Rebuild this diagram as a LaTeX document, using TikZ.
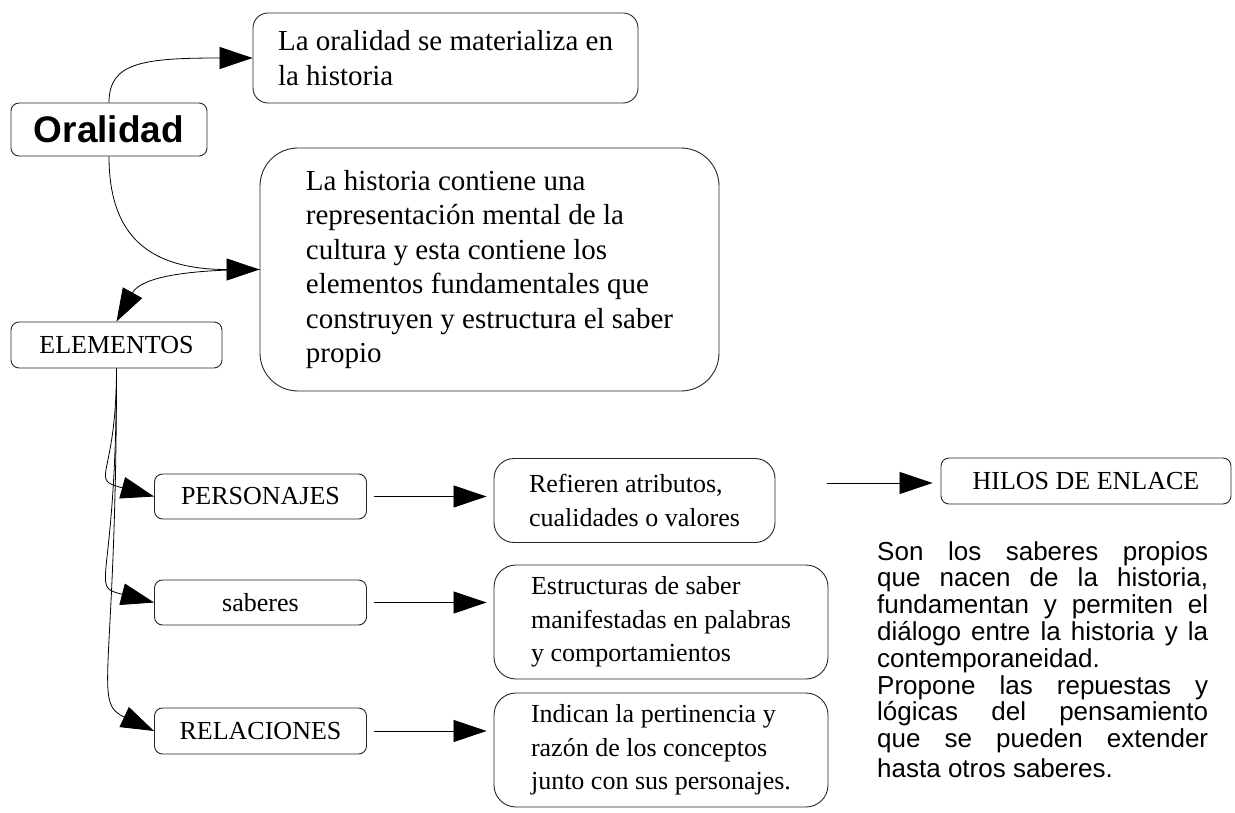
\documentclass[tikz,border=0pt]{standalone}
\usepackage{fontspec}
\setmainfont{Liberation Serif}
\newfontfamily\arialfont{Liberation Sans}
\usepackage{tikz}
\usetikzlibrary{arrows.meta}
\newcommand{\bigtext}{\fontsize{29}{34.5}\selectfont}
\newcommand{\smalltext}{\fontsize{26}{33.5}\selectfont}

\begin{document}
\begin{tikzpicture}[x=1pt,y=-1pt,
	box/.style={draw=black!85,line width=0.9pt,align=left,inner sep=0pt},
	conn/.style={line width=0.8pt,-{Triangle[length=33pt,width=22pt]}}]

	\useasboundingbox (0,0) rectangle (1235,813);

	%--- BOXES ------------------------------

	% Top of the map
	\node [box,rounded corners=8pt,minimum width=196pt,minimum height=53pt,font={\arialfont\bfseries\fontsize{37}{44}\selectfont}] (oralidad) at (109,129.5) {Oralidad};
	\node [box,rounded corners=15pt,minimum width=385pt,minimum height=90pt,font=\bigtext] (materializa) at (445.5,58) {La oralidad se materializa en\\la historia};
	\node [box,rounded corners=38pt,minimum width=459pt,minimum height=243pt,font=\bigtext] (contiene) at (489.5,269.5) {La historia contiene una\\representación mental de la\\cultura y esta contiene los\\elementos fundamentales que\\construyen y estructura el saber\\propio};

	% Elements and their children
	\node [box,rounded corners=8pt,minimum width=211pt,minimum height=46pt,font=\smalltext] (elementos) at (116.5,345) {ELEMENTOS};
	\node [box,rounded corners=8pt,minimum width=212pt,minimum height=45pt,font=\smalltext] (personajes) at (260.5,496.5) {PERSONAJES};
	\node [box,rounded corners=8pt,minimum width=212pt,minimum height=45pt,font=\smalltext] (saberes) at (260.5,602.5) {saberes};
	\node [box,rounded corners=8pt,minimum width=212pt,minimum height=46pt,font=\smalltext] (relaciones) at (260.5,731) {RELACIONES};

	% Explanations
	\node [box,rounded corners=20pt,minimum width=281pt,minimum height=84pt,font=\smalltext] (refieren) at (634.5,500.5) {Refieren atributos,\\cualidades o valores};
	\node [box,rounded corners=22pt,minimum width=334pt,minimum height=114pt,font=\smalltext] (estructuras) at (661,622) {Estructuras de saber\\manifestadas en palabras\\y comportamientos};
	\node [box,rounded corners=22pt,minimum width=334pt,minimum height=114pt,font=\smalltext] (indican) at (661,750) {Indican la pertinencia y\\razón de los conceptos\\junto con sus personajes.};

	% Linking threads
	\node [box,rounded corners=8pt,minimum width=290pt,minimum height=46pt,font=\smalltext] (hilos) at (1086,481) {HILOS DE ENLACE};
	\node [anchor=north west,inner sep=0pt,align=left,font={\arialfont\fontsize{26}{26.8}\selectfont}] (enlacetxt) at (877,541) {%
		\makebox[331pt][s]{Son los saberes propios}\\
		\makebox[331pt][s]{que nacen de la historia,}\\
		\makebox[331pt][s]{fundamentan y permiten el}\\
		\makebox[331pt][s]{diálogo entre la historia y la}\\
		contemporaneidad.\\
		\makebox[331pt][s]{Propone las repuestas y}\\
		\makebox[331pt][s]{lógicas del pensamiento}\\
		\makebox[331pt][s]{que se pueden extender}\\[3.2pt]
		hasta otros saberes.};

	%--- CURVED CONNECTORS ------------------

	\draw [conn] (oralidad.north) .. controls +(0,-40) and +(-110,0) .. (materializa.west);
	\draw [conn] (oralidad.south) .. controls +(0,80) and +(-110,0) .. (contiene.west);
	\draw [conn] (contiene.west) .. controls +(-70,0) and +(25,-45) .. (elementos.north);

	% From ELEMENTOS down to the three children
	\draw [conn] (elementos.south) .. controls +(0,112) and +(-66,-18) .. (personajes.west);
	\draw [conn] (elementos.south) .. controls +(0,222) and +(-66,-17) .. (saberes.west);
	\draw [conn] (elementos.south) .. controls +(0,312) and +(-62,-29) .. (relaciones.west);

	%--- STRAIGHT ARROWS --------------------

	\foreach \from/\to in {personajes/refieren,saberes/estructuras,relaciones/indican}{
		\draw [conn,shorten <=7pt,shorten >=7pt] (\from.east) -- (\from.east -| \to.west);
	}

	\coordinate (HILOSIN) at (827,483);
	\draw [conn,shorten >=8pt] (HILOSIN) -- (HILOSIN -| hilos.west);

\end{tikzpicture}
\end{document}
